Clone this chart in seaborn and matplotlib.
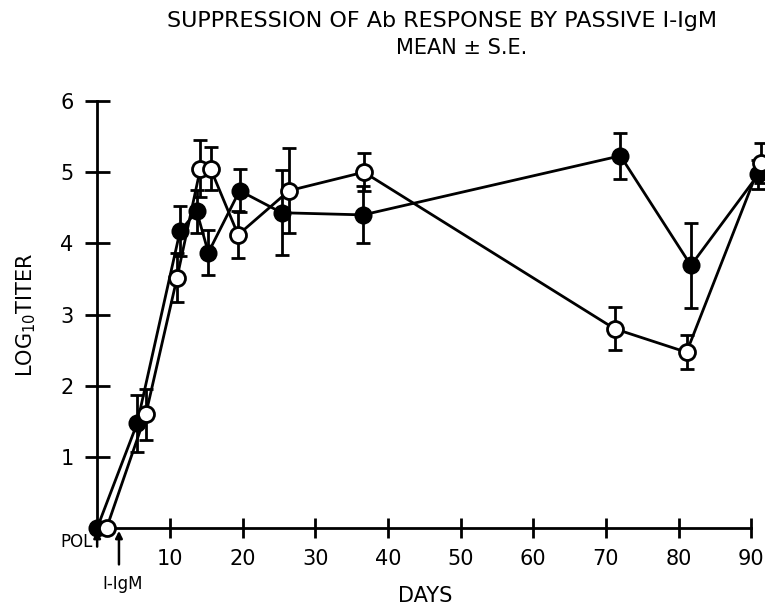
import matplotlib
matplotlib.use("Agg")
import matplotlib.pyplot as plt
import seaborn as sns
import pandas as pd
import numpy as np

# ---- data ----
days_closed = [0, 5.5, 11.4, 13.7, 15.3, 19.6, 25.4, 36.6, 72.0, 81.7, 91.0]
titer_closed = [0.0, 1.47, 4.17, 4.45, 3.87, 4.74, 4.43, 4.40, 5.23, 3.69, 4.97]
se_closed = [0.0, 0.40, 0.35, 0.30, 0.32, 0.30, 0.60, 0.40, 0.32, 0.60, 0.20]

days_open = [1.3, 6.7, 11.0, 14.2, 15.6, 19.4, 26.4, 36.7, 71.2, 81.1, 91.3]
titer_open = [0.0, 1.60, 3.52, 5.05, 5.05, 4.12, 4.74, 5.00, 2.80, 2.47, 5.13]
se_open = [0.0, 0.36, 0.34, 0.40, 0.30, 0.33, 0.60, 0.27, 0.30, 0.24, 0.28]

x_ticks = [10, 20, 30, 40, 50, 60, 70, 80, 90]
y_ticks = [1, 2, 3, 4, 5, 6]

sns.set_style("ticks")
plt.rcParams["font.family"] = ["DejaVu Sans"]
for k in ["text.color", "axes.labelcolor", "xtick.color", "ytick.color", "axes.edgecolor"]:
    plt.rcParams[k] = "black"

df = pd.concat([
    pd.DataFrame({"day": days_closed, "titer": titer_closed, "group": "closed"}),
    pd.DataFrame({"day": days_open, "titer": titer_open, "group": "open"}),
], ignore_index=True)

fig = plt.figure(figsize=(7.65, 6.14), dpi=100)
ax = fig.add_axes([0.127, 0.140, 0.855, 0.6955])

lw = 2.0
# error bars
ax.errorbar(days_closed[1:], titer_closed[1:], yerr=se_closed[1:], fmt="none",
            ecolor="black", elinewidth=lw, capsize=5, capthick=lw, clip_on=False, zorder=2)
ax.errorbar(days_open[1:], titer_open[1:], yerr=se_open[1:], fmt="none",
            ecolor="black", elinewidth=lw, capsize=5, capthick=lw, clip_on=False, zorder=2)

sns.lineplot(data=df[df.group == "closed"], x="day", y="titer", ax=ax, color="black",
             lw=lw, marker="o", markersize=11.5, markerfacecolor="black",
             markeredgecolor="black", markeredgewidth=1.5, clip_on=False, zorder=4,
             legend=False)
sns.lineplot(data=df[df.group == "open"], x="day", y="titer", ax=ax, color="black",
             lw=lw, marker="o", markersize=11.5, markerfacecolor="white",
             markeredgecolor="black", markeredgewidth=2.0, clip_on=False, zorder=5,
             legend=False)

ax.set_xlim(0, 90)
ax.set_ylim(0, 6)
ax.set_xticks(x_ticks)
ax.set_yticks(y_ticks)
ax.set_xticklabels([str(v) for v in x_ticks], fontsize=15)
ax.set_yticklabels([str(v) for v in y_ticks], fontsize=15)
ax.tick_params(axis="y", direction="inout", length=18, width=lw, pad=8, colors="black")
ax.tick_params(axis="x", direction="inout", length=14, width=lw, pad=8, colors="black")
for s in ["top", "right"]:
    ax.spines[s].set_visible(False)
for s in ["left", "bottom"]:
    ax.spines[s].set_linewidth(lw)
    ax.spines[s].set_color("black")
ax.set_xlabel("")
ax.set_ylabel("LOG$_{10}$TITER", fontsize=15, labelpad=16, color="black")

fig.text(0.578, 0.965, "SUPPRESSION OF Ab RESPONSE BY PASSIVE I-IgM",
         ha="center", va="center", fontsize=16, color="black")
fig.text(0.604, 0.922, "MEAN \u00b1 S.E.", ha="center", va="center", fontsize=15, color="black")
fig.text(0.556, 0.030, "DAYS", ha="center", va="center", fontsize=15, color="black")

# annotation arrows
ax.annotate("", xy=(0, 0), xytext=(0, -0.3), xycoords="data",
            arrowprops=dict(arrowstyle="-|>", color="black", lw=1.8), annotation_clip=False)
ax.text(-0.6, -0.2, "POL", ha="right", va="center", fontsize=12, color="black")
ax.annotate("", xy=(3, 0), xytext=(3, -0.55), xycoords="data",
            arrowprops=dict(arrowstyle="-|>", color="black", lw=1.8), annotation_clip=False)
ax.text(3.5, -0.78, "I-IgM", ha="center", va="center", fontsize=12, color="black")

fig.savefig("out.png", dpi=100)
